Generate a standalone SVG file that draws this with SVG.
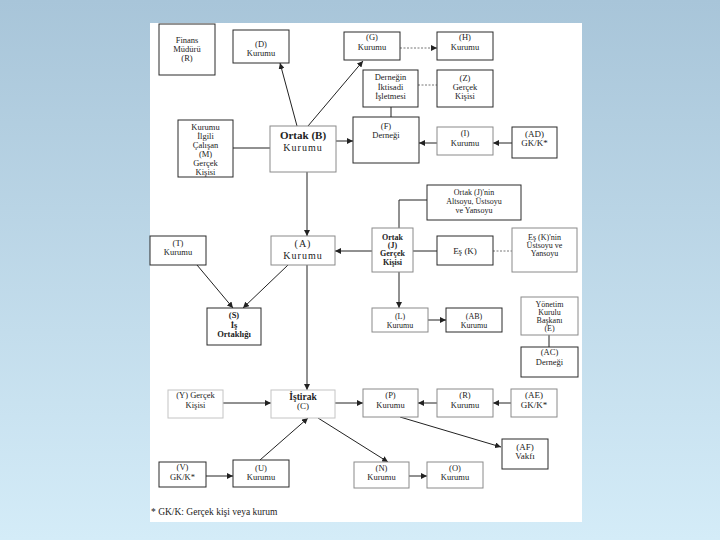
<svg xmlns="http://www.w3.org/2000/svg" width="720" height="540" viewBox="0 0 720 540">
<defs>
<linearGradient id="bg" x1="0" y1="0" x2="0" y2="1">
<stop offset="0" stop-color="#a8c5d9"/>
<stop offset="1" stop-color="#d4ecf8"/>
</linearGradient>
<marker id="ah" viewBox="0 0 10 10" refX="10" refY="5" markerWidth="6" markerHeight="6" orient="auto" markerUnits="userSpaceOnUse">
<path d="M0,0 L10,5 L0,10 z" fill="#222"/>
</marker>
<style>
.b{fill:#fff;stroke:#2a2a2a;stroke-width:1}
.g{fill:#fff;stroke:#8a8a8a;stroke-width:1}
.l{fill:#fff;stroke:#c4c4c4;stroke-width:1}
text{font-family:"Liberation Serif","Times New Roman",serif;font-size:8.5px;fill:#222;text-anchor:middle}
.s8{font-size:8px}
.bd{font-weight:bold}
.big{font-size:11px;font-weight:bold}
.sp{font-size:10px;letter-spacing:1px}
.m{font-size:9px}
.c line,.c path,.c polyline{stroke:#222;stroke-width:1;fill:none}
.c .d{stroke:#777;stroke-dasharray:2,1.5}
.fn{text-anchor:start;font-size:9.5px}
</style>
</defs>
<rect width="720" height="540" fill="url(#bg)"/>
<rect x="150" y="23" width="432" height="499" fill="#fff"/>

<g class="c">
<line x1="233" y1="148" x2="270" y2="148"/>
<line x1="297" y1="126" x2="280" y2="63" marker-end="url(#ah)"/>
<line x1="308" y1="126" x2="363" y2="61" marker-end="url(#ah)"/>
<line x1="336" y1="141" x2="353" y2="141" marker-end="url(#ah)"/>
<line class="d" x1="400" y1="48" x2="437" y2="48" marker-end="url(#ah)"/>
<line class="d" x1="418" y1="85" x2="437" y2="85"/>
<line x1="391" y1="107" x2="391" y2="117"/>
<line x1="437" y1="143" x2="419" y2="143" marker-end="url(#ah)"/>
<line x1="512" y1="143" x2="493" y2="143" marker-end="url(#ah)"/>
<line x1="307" y1="172" x2="307" y2="236" marker-end="url(#ah)"/>
<line x1="307" y1="265" x2="307" y2="390" marker-end="url(#ah)"/>
<line x1="372" y1="251" x2="335" y2="251" marker-end="url(#ah)"/>
<polyline points="399,228 399,200 427,200"/>
<line x1="413" y1="251" x2="437" y2="251"/>
<line class="d" x1="493" y1="251" x2="512" y2="251"/>
<line x1="399" y1="272" x2="399" y2="308" marker-end="url(#ah)"/>
<line x1="428" y1="320" x2="446" y2="320" marker-end="url(#ah)"/>
<line x1="549" y1="335" x2="549" y2="347"/>
<line x1="197" y1="265" x2="233" y2="308" marker-end="url(#ah)"/>
<line x1="288" y1="265" x2="243" y2="308" marker-end="url(#ah)"/>
<line x1="223" y1="403" x2="271" y2="403" marker-end="url(#ah)"/>
<line x1="335" y1="403" x2="363" y2="403" marker-end="url(#ah)"/>
<line x1="437" y1="403" x2="418" y2="403" marker-end="url(#ah)"/>
<line x1="511" y1="403" x2="493" y2="403" marker-end="url(#ah)"/>
<line x1="400" y1="417" x2="501" y2="447" marker-end="url(#ah)"/>
<line x1="318" y1="418" x2="388" y2="462" marker-end="url(#ah)"/>
<line x1="260" y1="460" x2="308" y2="418" marker-end="url(#ah)"/>
<line x1="206" y1="476" x2="233" y2="476" marker-end="url(#ah)"/>
<line x1="409" y1="476" x2="427" y2="476" marker-end="url(#ah)"/>
</g>

<g id="finans"><rect class="b" x="159" y="24" width="56" height="51"/><text x="187" y="43">Finans</text><text x="187" y="52">Müdürü</text><text x="187" y="61">(R)</text></g>
<g id="d"><rect class="b" x="233" y="30" width="56" height="33"/><text x="261" y="47">(D)</text><text x="261" y="56">Kurumu</text></g>
<g id="g"><rect class="b" x="344" y="32" width="56" height="28"/><text x="372" y="40">(G)</text><text x="372" y="50">Kurumu</text></g>
<g id="h"><rect class="b" x="437" y="32" width="56" height="28"/><text x="465" y="40">(H)</text><text x="465" y="50">Kurumu</text></g>
<g id="isletme"><rect class="b" x="363" y="70" width="55" height="37"/><text x="390.5" y="80">Derneğin</text><text x="390.5" y="90">İktisadi</text><text x="390.5" y="99">İşletmesi</text></g>
<g id="z"><rect class="b" x="437" y="70" width="56" height="37"/><text x="465" y="81">(Z)</text><text x="465" y="90">Gerçek</text><text x="465" y="99">Kişisi</text></g>
<g id="m"><rect class="b" x="178" y="120" width="55" height="57"/><text x="205.5" y="130">Kurumu</text><text x="205.5" y="139">İlgili</text><text x="205.5" y="148">Çalışan</text><text x="205.5" y="157">(M)</text><text x="205.5" y="166">Gerçek</text><text x="205.5" y="175">Kişisi</text></g>
<g id="b"><rect class="g" x="270" y="126" width="66" height="46"/><text class="big" x="303" y="139">Ortak (B)</text><text class="sp" x="303" y="151">Kurumu</text></g>
<g id="f"><rect class="b" x="353" y="117" width="66" height="46"/><text x="386" y="129">(F)</text><text x="386" y="138">Derneği</text></g>
<g id="i"><rect class="g" x="437" y="127" width="56" height="28"/><text x="465" y="136">(I)</text><text x="465" y="146">Kurumu</text></g>
<g id="ad"><rect class="b" x="512" y="127" width="45" height="31"/><text class="m" x="534.5" y="137">(AD)</text><text class="m" x="534.5" y="146">GK/K*</text></g>
<g id="jnin"><rect class="b" x="427" y="185" width="94" height="35"/><text class="s8" x="474" y="195">Ortak (J)'nin</text><text class="s8" x="474" y="204">Altsoyu, Üstsoyu</text><text class="s8" x="474" y="213">ve Yansoyu</text></g>
<g id="t"><rect class="b" x="150" y="236" width="56" height="29"/><text x="178" y="246">(T)</text><text x="178" y="255">Kurumu</text></g>
<g id="a"><rect class="g" x="271" y="236" width="64" height="29"/><text class="sp" x="303" y="247">(A)</text><text class="sp" x="303" y="259">Kurumu</text></g>
<g id="j"><rect class="g" x="372" y="228" width="41" height="44"/><text class="bd s8" x="392.5" y="240">Ortak</text><text class="bd s8" x="392.5" y="248">(J)</text><text class="bd s8" x="392.5" y="256">Gerçek</text><text class="bd s8" x="392.5" y="265">Kişisi</text></g>
<g id="k"><rect class="b" x="437" y="236" width="56" height="29"/><text class="m" x="465" y="254">Eş (K)</text></g>
<g id="knin"><rect class="g" x="512" y="228" width="65" height="44"/><text class="s8" x="544.5" y="240">Eş (K)'nin</text><text class="s8" x="544.5" y="248">Üstsoyu ve</text><text class="s8" x="544.5" y="256">Yansoyu</text></g>
<g id="s"><rect class="b" x="207" y="308" width="54" height="37"/><text class="bd" x="234" y="318">(S)</text><text class="bd" x="234" y="328">İş</text><text class="bd" x="234" y="337">Ortaklığı</text></g>
<g id="l"><rect class="g" x="372" y="308" width="56" height="24"/><text class="s8" x="400" y="319">(L)</text><text class="s8" x="400" y="328">Kurumu</text></g>
<g id="ab"><rect class="b" x="446" y="308" width="56" height="24"/><text class="s8" x="474" y="319">(AB)</text><text class="s8" x="474" y="328">Kurumu</text></g>
<g id="e"><rect class="g" x="521" y="297" width="57" height="38"/><text class="s8" x="549.5" y="307">Yönetim</text><text class="s8" x="549.5" y="315">Kurulu</text><text class="s8" x="549.5" y="323">Başkanı</text><text class="s8" x="549.5" y="331">(E)</text></g>
<g id="ac"><rect class="b" x="521" y="347" width="57" height="30"/><text x="549.5" y="355">(AC)</text><text x="549.5" y="365">Derneği</text></g>
<g id="y"><rect class="l" x="168" y="390" width="55" height="28"/><text x="195.5" y="398">(Y) Gerçek</text><text x="195.5" y="408">Kişisi</text></g>
<g id="c"><rect class="l" x="271" y="390" width="64" height="28"/><text class="bd" x="303" y="400" style="font-size:9.5px">İştirak</text><text x="303" y="409" style="font-size:9px">(C)</text></g>
<g id="p"><rect class="g" x="363" y="389" width="55" height="28"/><text x="390.5" y="398">(P)</text><text x="390.5" y="408">Kurumu</text></g>
<g id="r"><rect class="g" x="437" y="389" width="56" height="28"/><text x="465" y="398">(R)</text><text x="465" y="408">Kurumu</text></g>
<g id="ae"><rect class="g" x="511" y="389" width="46" height="28"/><text class="m" x="534" y="398">(AE)</text><text class="m" x="534" y="408">GK/K*</text></g>
<g id="af"><rect class="b" x="502" y="439" width="46" height="30"/><text class="m" x="525" y="450">(AF)</text><text class="m" x="525" y="459">Vakfı</text></g>
<g id="v"><rect class="b" x="159" y="462" width="47" height="25"/><text x="182.5" y="470">(V)</text><text x="182.5" y="479.5">GK/K*</text></g>
<g id="u"><rect class="b" x="233" y="460" width="56" height="27"/><text x="261" y="471">(U)</text><text x="261" y="480">Kurumu</text></g>
<g id="n"><rect class="g" x="354" y="462" width="55" height="26"/><text x="381.5" y="471">(N)</text><text x="381.5" y="480">Kurumu</text></g>
<g id="o"><rect class="g" x="427" y="462" width="56" height="26"/><text x="455" y="471">(O)</text><text x="455" y="480">Kurumu</text></g>
<text class="fn" x="151" y="515">* GK/K: Gerçek kişi veya kurum</text>
</svg>
